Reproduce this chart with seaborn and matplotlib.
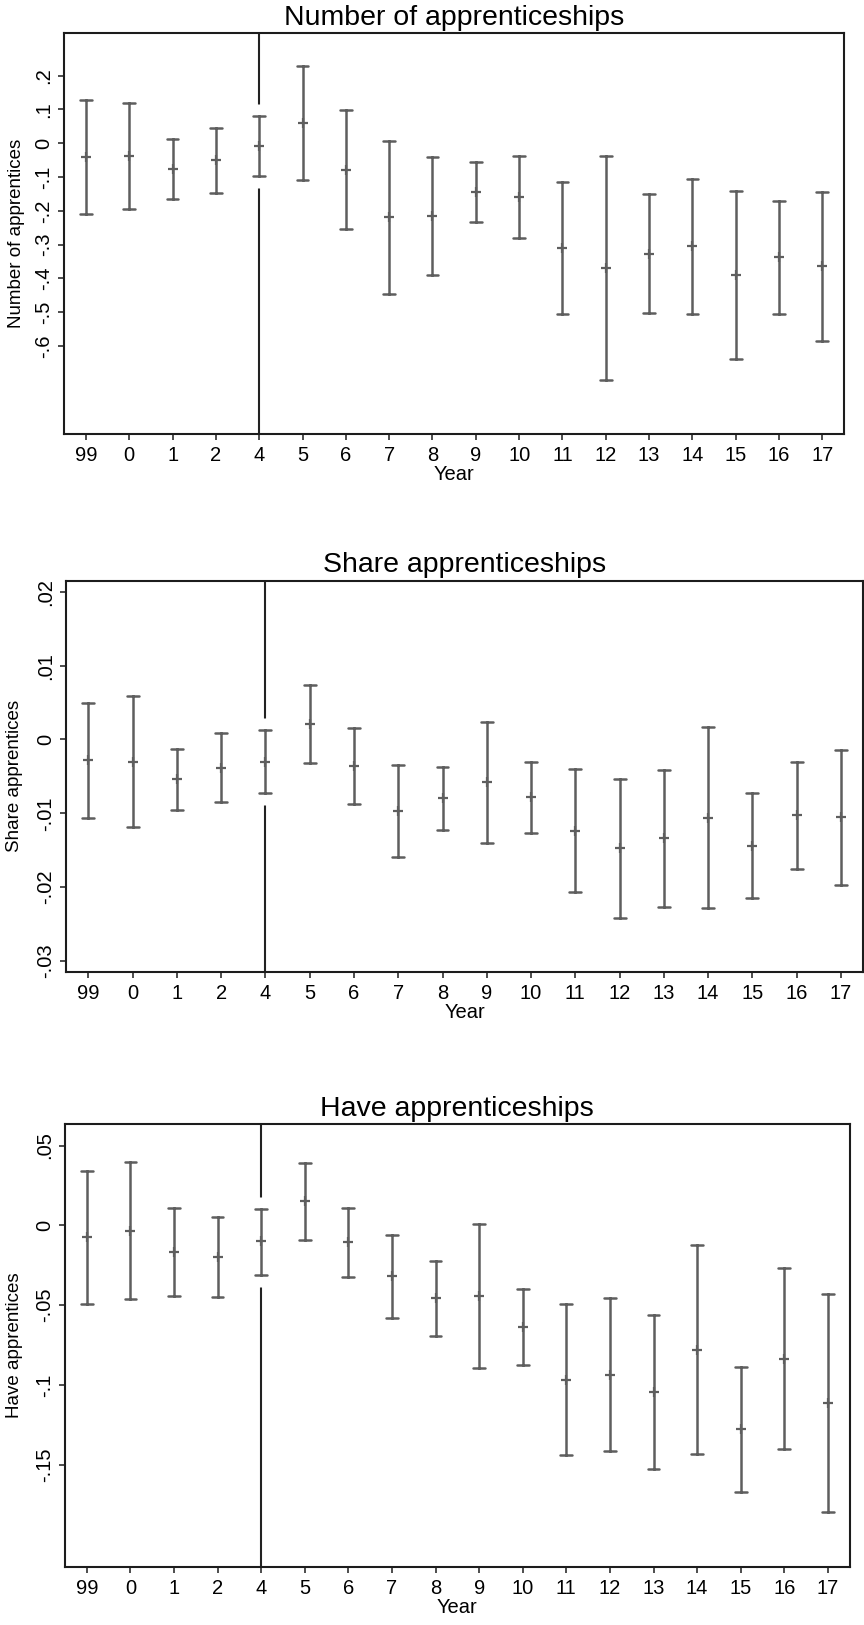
import numpy as np
import pandas as pd
import matplotlib
matplotlib.use("Agg")
import matplotlib.pyplot as plt
import seaborn as sns

# Event-study coefficients with 95% confidence bounds, by survey year
years = ["99", "0", "1", "2", "4", "5", "6", "7", "8", "9",
         "10", "11", "12", "13", "14", "15", "16", "17"]
reform_year = "4"

num_est = [-0.040, -0.038, -0.076, -0.050, -0.008, 0.060, -0.078, -0.219, -0.216,
           -0.145, -0.159, -0.311, -0.368, -0.328, -0.305, -0.390, -0.338, -0.363]
num_lo = [-0.208, -0.196, -0.166, -0.146, -0.097, -0.108, -0.254, -0.446, -0.390,
          -0.234, -0.280, -0.506, -0.699, -0.503, -0.505, -0.638, -0.506, -0.584]
num_hi = [0.129, 0.118, 0.013, 0.046, 0.080, 0.229, 0.099, 0.007, -0.041,
          -0.057, -0.037, -0.115, -0.037, -0.150, -0.106, -0.142, -0.171, -0.143]
num_ticks = [0.2, 0.1, 0.0, -0.1, -0.2, -0.3, -0.4, -0.5, -0.6]
num_ticklabels = [".2", ".1", "0", "-.1", "-.2", "-.3", "-.4", "-.5", "-.6"]

share_est = [-0.0028, -0.0030, -0.0054, -0.0039, -0.0030, 0.0021, -0.0036, -0.0097, -0.0079,
             -0.0058, -0.0078, -0.0124, -0.0147, -0.0134, -0.0106, -0.0144, -0.0103, -0.0105]
share_lo = [-0.0106, -0.0118, -0.0096, -0.0085, -0.0073, -0.0032, -0.0088, -0.0159, -0.0122,
            -0.0140, -0.0127, -0.0207, -0.0242, -0.0227, -0.0228, -0.0215, -0.0175, -0.0197]
share_hi = [0.0049, 0.0059, -0.0013, 0.0009, 0.0013, 0.0074, 0.0015, -0.0034, -0.0037,
            0.0024, -0.0030, -0.0040, -0.0053, -0.0042, 0.0017, -0.0073, -0.0031, -0.0014]
share_ticks = [0.02, 0.01, 0.0, -0.01, -0.02, -0.03]
share_ticklabels = [".02", ".01", "0", "-.01", "-.02", "-.03"]

have_est = [-0.0073, -0.0033, -0.0165, -0.0196, -0.0100, 0.0151, -0.0105, -0.0320, -0.0458,
            -0.0445, -0.0637, -0.0968, -0.0936, -0.1047, -0.0780, -0.1279, -0.0836, -0.1116]
have_lo = [-0.0491, -0.0464, -0.0441, -0.0447, -0.0309, -0.0090, -0.0322, -0.0579, -0.0692,
           -0.0897, -0.0878, -0.1440, -0.1415, -0.1528, -0.1432, -0.1672, -0.1404, -0.1799]
have_hi = [0.0339, 0.0397, 0.0111, 0.0052, 0.0105, 0.0393, 0.0111, -0.0061, -0.0226,
           0.0006, -0.0397, -0.0493, -0.0458, -0.0564, -0.0125, -0.0886, -0.0265, -0.0428]
have_ticks = [0.05, 0.0, -0.05, -0.10, -0.15]
have_ticklabels = [".05", "0", "-.05", "-.1", "-.15"]

sns.set_style("ticks")
plt.rcParams["font.family"] = ["Liberation Sans", "DejaVu Sans"]

W, H = 864, 1625
fig = plt.figure(figsize=(W / 100, H / 100), dpi=100)
fig.patch.set_facecolor("white")

BAR = "#5e5e5e"
FRAME = "#1c1c1c"


def add_axes_px(left, right, top, bottom):
    return fig.add_axes([left / W, 1 - bottom / H, (right - left) / W, (bottom - top) / H])


def draw_panel(ax, title, ylabel, est, lo, hi, ticks, ticklabels, ylim, label_x, height_px):
    df = pd.DataFrame({
        "year": np.repeat(years, 3),
        "value": np.column_stack([lo, est, hi]).ravel(),
    })
    # median of (lo, est, hi) is the point estimate; full range gives the bounds
    sns.pointplot(data=df, x="year", y="value", order=years,
                  estimator="median", errorbar=("pi", 100),
                  color=BAR, capsize=0.27, linestyle="none",
                  marker="+", markersize=7.5, markeredgewidth=1.6,
                  err_kws={"linewidth": 1.8, "color": BAR}, ax=ax)

    k = years.index(reform_year)
    ax.axvline(k, color="#222222", lw=1.5, zorder=1)
    # white halo around the reform-year interval
    m = 12 / height_px * (ylim[1] - ylim[0])
    ax.plot([k, k], [lo[k] - m, hi[k] + m], color="white", lw=3.6,
            solid_capstyle="butt", zorder=1.5)

    ax.set_xlim(-0.5, len(years) - 0.5)
    ax.set_ylim(*ylim)
    ax.set_yticks(ticks, labels=ticklabels)
    ax.tick_params(axis="both", direction="out", length=4.3, width=1.1,
                   color=FRAME, labelsize=14.5, labelcolor="black")
    ax.tick_params(axis="y", labelrotation=90, pad=3.4)
    ax.tick_params(axis="x", pad=4.2)
    for lab in ax.get_yticklabels():
        lab.set_va("center")
    for sp in ax.spines.values():
        sp.set_visible(True)
        sp.set_color(FRAME)
        sp.set_linewidth(1.5)
    ax.set_title(title, fontsize=20.5, pad=6, color="black")
    ax.set_xlabel("Year", fontsize=14.5, labelpad=0.5, color="black")
    ax.set_ylabel(ylabel, fontsize=13.5, color="black")
    ax.yaxis.set_label_coords(label_x, 0.5)
    ax.grid(False)


ax1 = add_axes_px(64.3, 844, 33.3, 434)
draw_panel(ax1, "Number of apprenticeships", "Number of apprentices",
           num_est, num_lo, num_hi, num_ticks, num_ticklabels,
           (-0.86, 0.325), -0.050, 400.7)

ax2 = add_axes_px(66.3, 863, 580.7, 972)
draw_panel(ax2, "Share apprenticeships", "Share apprentices",
           share_est, share_lo, share_hi, share_ticks, share_ticklabels,
           (-0.0315, 0.0215), -0.054, 391.3)

ax3 = add_axes_px(65, 849.7, 1124, 1566.7)
draw_panel(ax3, "Have apprenticeships", "Have apprentices",
           have_est, have_lo, have_hi, have_ticks, have_ticklabels,
           (-0.214, 0.0635), -0.0535, 442.7)

fig.savefig("out.png", dpi=100, facecolor="white")
